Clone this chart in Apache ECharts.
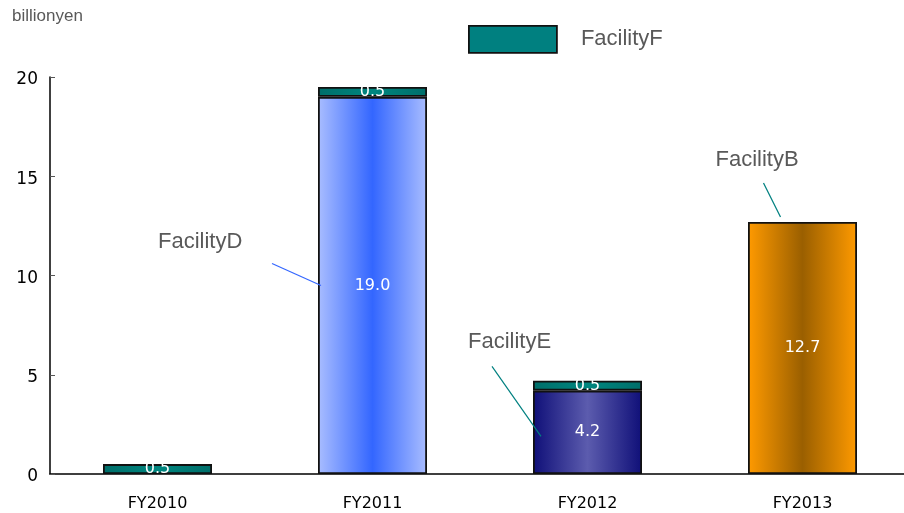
<!DOCTYPE html>
<html>
<head>
<meta charset="utf-8">
<script src="https://cdn.jsdelivr.net/npm/echarts@6/dist/echarts.min.js"></script>
<style>
  html, body { margin: 0; padding: 0; background: #fff; overflow: hidden; }
  #chart { width: 910px; height: 513px; }
</style>
</head>
<body>
<div id="chart"></div>
<script>
var categories = ['FY2010', 'FY2011', 'FY2012', 'FY2013']
var facilityD = ['-', 19.0, '-', '-']
var facilityE = ['-', '-', 4.2, '-']
var facilityB = ['-', '-', '-', 12.7]
var facilityF = [0.5, 0.5, 0.5, '-']
var yTicks = [0, 5, 10, 15, 20]

var axisFont = "'DejaVu Sans', sans-serif"
var plainFont = "'Liberation Sans', Arial, sans-serif"

function hGrad (edge, mid) {
  return new echarts.graphic.LinearGradient(0, 0, 1, 0, [
    { offset: 0, color: edge },
    { offset: 0.5, color: mid },
    { offset: 1, color: edge }
  ])
}

function barSeries (name, data, color) {
  return {
    name: name,
    type: 'bar',
    stack: 'total',
    barWidth: 109,
    data: data,
    itemStyle: { color: color, borderColor: '#111', borderWidth: 1.8 },
    label: {
      show: true,
      position: 'inside',
      color: '#fff',
      fontFamily: axisFont,
      fontSize: 16,
      formatter: function (p) { return p.value.toFixed(1) }
    }
  }
}

var chart = echarts.init(document.getElementById('chart'))
chart.setOption({
  animation: false,
  grid: { left: 50, top: 77, right: 0, bottom: 39, containLabel: false },
  legend: {
    data: ['FacilityF'],
    left: 468,
    top: 25,
    padding: 0,
    itemWidth: 88,
    itemHeight: 27,
    icon: 'rect',
    itemStyle: { color: '#008080', borderColor: '#111', borderWidth: 1.8 },
    textStyle: { color: '#595959', fontSize: 22, fontFamily: plainFont, padding: [0, 0, 0, 19] }
  },
  xAxis: {
    type: 'category',
    data: categories,
    axisLine: { lineStyle: { color: '#000', width: 1.5 } },
    axisTick: { inside: true, length: 6, lineStyle: { color: '#777' } },
    axisLabel: { color: '#000', fontSize: 16, fontFamily: axisFont, margin: 22 }
  },
  yAxis: {
    type: 'value',
    min: yTicks[0],
    max: yTicks[yTicks.length - 1],
    interval: yTicks[1] - yTicks[0],
    axisLine: { show: true, lineStyle: { color: '#000', width: 1.5 } },
    axisTick: { show: true, inside: true, length: 5, lineStyle: { color: '#555' } },
    axisLabel: {
      color: '#000',
      margin: 12,
      formatter: function (v) { return '{t|' + v + '}' },
      rich: { t: { fontSize: 17, fontFamily: axisFont, color: '#000', padding: [6, 0, 0, 0] } }
    },
    splitLine: { show: false }
  },
  series: [
    barSeries('FacilityD', facilityD, hGrad('#a9bdff', '#3366ff')),
    barSeries('FacilityE', facilityE, hGrad('#0f0f78', '#5c5cae')),
    barSeries('FacilityB', facilityB, hGrad('#ff9a00', '#9a5f00')),
    barSeries('FacilityF', facilityF, hGrad('#006e6a', '#00867f'))
  ]
})

// annotations anchored to the bars through the axes
var half = 54.5
function px (cat, val) { return chart.convertToPixel({ gridIndex: 0 }, [cat, val]) }
var pD = px('FY2011', 9.5); pD[0] -= half - 3
var pE = px('FY2012', 1.9); pE[0] -= half - 8
var pB = px('FY2013', 12.95); pB[0] -= 22
var annFont = '22px Liberation Sans, Arial, sans-serif'
chart.setOption({
  graphic: [
    { type: 'text', left: 12, top: 8, style: { text: 'billionyen', fill: '#595959', font: '17px Liberation Sans, Arial, sans-serif' } },
    { type: 'line', z: 100, shape: { x1: pD[0] - 49, y1: pD[1] - 22, x2: pD[0], y2: pD[1] }, style: { stroke: '#3366ff', lineWidth: 1.2 } },
    { type: 'text', x: pD[0] - 163, y: pD[1] - 43, style: { text: 'FacilityD', fill: '#595959', font: annFont, textVerticalAlign: 'middle' } },
    { type: 'line', z: 100, shape: { x1: pE[0] - 49, y1: pE[1] - 70, x2: pE[0], y2: pE[1] }, style: { stroke: '#008080', lineWidth: 1.2 } },
    { type: 'text', x: pE[0] - 73, y: pE[1] - 94, style: { text: 'FacilityE', fill: '#595959', font: annFont, textVerticalAlign: 'middle' } },
    { type: 'line', z: 100, shape: { x1: pB[0] - 17, y1: pB[1] - 34, x2: pB[0], y2: pB[1] }, style: { stroke: '#008080', lineWidth: 1.2 } },
    { type: 'text', x: pB[0] - 65, y: pB[1] - 57, style: { text: 'FacilityB', fill: '#595959', font: annFont, textVerticalAlign: 'middle' } }
  ]
})
</script>
</body>
</html>
